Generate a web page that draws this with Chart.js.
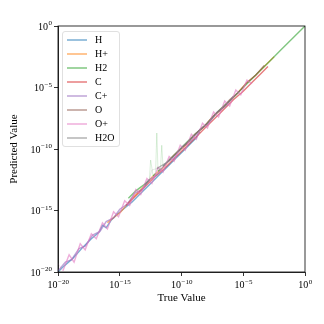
<!DOCTYPE html>
<html>
<head>
<meta charset="utf-8">
<script src="https://cdn.jsdelivr.net/npm/chart.js@4.4.1/dist/chart.umd.min.js"></script>
<style>
  html, body { margin: 0; padding: 0; background: #ffffff; }
  canvas { display: block; }
</style>
</head>
<body>
<canvas id="c" width="324" height="324"></canvas>
<script>
// Species shown in the parity plot
const species = ["H", "H+", "H2", "C", "C+", "O", "O+", "H2O"];
const colors = ["#1f77b4", "#ff7f0e", "#2ca02c", "#d62728", "#9467bd", "#8c564b", "#e377c2", "#7f7f7f"];

// log10 of true and predicted abundances, per species
const trueH  = [-20, -19.5, -18.8, -18.0, -17.3, -16.7, -16.4, -16.1, -15.7, -15.2, -14.6, -14.0, -13.3, -12.6, -11.9, -11.2, -10.5, -9.8, -9.2, -8.8, -8.6, -8.5];
const predH  = [-20, -19.5, -18.9, -18.0, -17.3, -16.8, -16.2, -16.4, -15.8, -15.3, -14.8, -14.3, -13.6, -12.9, -12.2, -11.5, -10.8, -10.1, -9.5, -9.1, -8.7, -8.6];

const trueHp = [-16.0, -15.4, -14.9, -14.5, -14.0, -13.2, -12.4, -11.5, -10.6, -9.8, -9.0, -8.1, -7.3, -6.5, -5.6, -4.8, -4.0, -3.2, -2.5];
const predHp = [-16.0, -15.5, -15.1, -14.6, -14.0, -13.2, -12.3, -11.5, -10.5, -9.8, -8.9, -8.1, -7.2, -6.5, -5.6, -4.7, -4.0, -3.2, -2.5];

const trueH2 = [-14.3, -14.0, -13.7, -13.3, -12.9, -12.6, -12.5, -12.3, -12.1, -12.0, -11.9, -11.7, -11.6, -11.5, -11.2, -10.6, -9.8, -8.9, -7.9, -6.9, -5.9, -4.9, -3.9, -2.9, -2.0, -1.0, 0];
const predH2 = [-14.0, -13.7, -13.4, -13.1, -12.8, -12.5, -10.9, -12.2, -12.0, -8.7, -11.8, -11.6, -9.7, -11.4, -11.1, -10.5, -9.7, -8.8, -7.9, -6.8, -5.9, -4.9, -3.9, -2.9, -2.0, -1.0, 0];

const trueC  = [-14.5, -13.8, -13.0, -12.2, -11.4, -10.6, -9.8, -9.0, -8.2, -7.4, -6.6, -5.8, -5.0, -4.3, -3.6, -3.0];
const predC  = [-14.6, -13.9, -13.1, -12.3, -11.6, -10.8, -10.0, -9.2, -8.4, -7.6, -6.8, -6.0, -5.3, -4.6, -3.9, -3.3];

const trueCp = [-20, -19.4, -18.9, -18.3, -17.8, -17.2, -16.6, -16.1, -15.5, -15.0, -14.4, -13.8, -13.2, -12.6, -12.0, -11.3, -10.6, -9.9, -9.2, -8.5, -7.8, -7.1, -6.4, -5.8];
const predCp = [-19.9, -19.2, -19.0, -18.1, -17.9, -17.0, -16.7, -15.9, -15.6, -14.9, -14.5, -13.6, -13.3, -12.5, -12.1, -11.2, -10.7, -9.8, -9.3, -8.4, -7.9, -7.0, -6.5, -5.7];

const trueO  = [-11.0, -10.3, -9.6, -8.9, -8.2, -7.5, -6.8, -6.1, -5.4, -4.7, -4.0, -3.3];
const predO  = [-10.9, -10.2, -9.6, -8.8, -8.2, -7.4, -6.8, -6.0, -5.4, -4.6, -4.0, -3.2];

const trueOp = [-20, -19.6, -19.1, -18.7, -18.2, -17.8, -17.3, -16.9, -16.4, -16.0, -15.5, -15.1, -14.6, -14.2, -13.7, -13.3, -12.8, -12.4, -11.9, -11.5, -11.0, -10.6, -10.1, -9.7, -9.2, -8.8, -8.3, -7.9, -7.4, -7.0, -6.5, -6.1, -5.6, -5.2, -4.7, -4.3];
const predOp = [-19.3, -19.9, -18.6, -19.2, -17.7, -18.2, -16.9, -17.3, -16.0, -16.5, -15.1, -15.5, -14.2, -14.6, -13.3, -13.7, -12.4, -12.8, -11.5, -11.9, -10.6, -11.0, -9.7, -10.1, -8.8, -9.2, -7.9, -8.3, -7.0, -7.4, -6.1, -6.5, -5.2, -5.6, -4.4, -4.7];

const trueW  = [-13.0, -12.6, -12.4, -12.0, -11.7, -11.2, -10.5, -9.7, -8.9, -8.0, -7.1, -6.2, -5.3];
const predW  = [-12.9, -12.5, -11.7, -11.6, -11.4, -11.1, -10.4, -9.6, -8.8, -8.0, -7.0, -6.2, -5.3];

const trueSeries = [trueH, trueHp, trueH2, trueC, trueCp, trueO, trueOp, trueW];
const predSeries = [predH, predHp, predH2, predC, predCp, predO, predOp, predW];

// Decade exponents labelled on both axes
const tickExponents = [-20, -15, -10, -5, 0];

const SERIF = "'Liberation Serif', 'DejaVu Serif', serif";

function withAlpha(hex, a) {
  const n = parseInt(hex.slice(1), 16);
  return `rgba(${(n >> 16) & 255},${(n >> 8) & 255},${n & 255},${a})`;
}

// Segments that stray far from the diagonal are drawn faintly
function offDiagonal(p) {
  return Math.abs(Math.log10(p.y) - Math.log10(p.x)) > 0.6;
}

const datasets = species.map((name, i) => ({
  label: name,
  data: trueSeries[i].map((t, k) => ({ x: Math.pow(10, t), y: Math.pow(10, predSeries[i][k]) })),
  borderColor: withAlpha(colors[i], 0.6),
  backgroundColor: withAlpha(colors[i], 0.6),
  borderWidth: 1.4,
  pointRadius: 0,
  tension: 0,
  fill: false,
  order: species.length - 1 - i,
  segment: {
    borderColor: ctx => (offDiagonal(ctx.p0.parsed) || offDiagonal(ctx.p1.parsed))
      ? withAlpha(colors[i], 0.22) : undefined,
    borderWidth: ctx => (offDiagonal(ctx.p0.parsed) || offDiagonal(ctx.p1.parsed)) ? 0.8 : undefined
  }
}));

function decadeTicks(scale) {
  scale.ticks = tickExponents.map(e => ({ value: Math.pow(10, e) }));
}

const axisCommon = {
  type: 'logarithmic',
  min: 1e-20,
  max: 1,
  afterBuildTicks: decadeTicks,
  ticks: { display: false },
  grid: { drawOnChartArea: false, drawTicks: true, tickLength: 4, color: '#000', lineWidth: 0.8 },
  border: { display: true, color: '#000', width: 0.8 }
};

// Frame, tick labels with superscript exponents, axis titles and legend
const decorations = {
  id: 'decorations',
  afterDraw(chart) {
    const ctx = chart.ctx;
    const a = chart.chartArea;
    const xs = chart.scales.x, ys = chart.scales.y;
    ctx.save();
    ctx.strokeStyle = '#000';
    ctx.lineWidth = 0.8;
    ctx.strokeRect(a.left, a.top, a.right - a.left, a.bottom - a.top);

    ctx.fillStyle = '#000';
    const base = '10px ' + SERIF, sup = '7px ' + SERIF;
    function measure(e) {
      ctx.font = base; const w1 = ctx.measureText('10').width;
      ctx.font = sup; const w2 = ctx.measureText(e === 0 ? '0' : '\u2212' + (-e)).width;
      return [w1, w2];
    }
    function drawLabel(e, x, y) {
      const s = e === 0 ? '0' : '\u2212' + (-e);
      const [w1] = measure(e);
      ctx.textAlign = 'left'; ctx.textBaseline = 'alphabetic';
      ctx.font = base; ctx.fillText('10', x, y);
      ctx.font = sup; ctx.fillText(s, x + w1 + 0.5, y - 4.5);
    }
    tickExponents.forEach(e => {
      const px = xs.getPixelForValue(Math.pow(10, e));
      const [w1, w2] = measure(e);
      drawLabel(e, px - (w1 + w2) / 2, a.bottom + 16);
      const py = ys.getPixelForValue(Math.pow(10, e));
      drawLabel(e, a.left - 6 - (w1 + w2 + 0.5), py + 3.5);
    });

    ctx.font = '11px ' + SERIF;
    ctx.textAlign = 'center';
    ctx.textBaseline = 'alphabetic';
    ctx.fillText('True Value', (a.left + a.right) / 2, 301);
    ctx.save();
    ctx.translate(17, (a.top + a.bottom) / 2);
    ctx.rotate(-Math.PI / 2);
    ctx.fillText('Predicted Value', 0, 0);
    ctx.restore();

    // legend box
    const bx = 62.5, by = 31.5, bw = 57, bh = 115, r = 2.5;
    ctx.beginPath();
    ctx.moveTo(bx + r, by);
    ctx.arcTo(bx + bw, by, bx + bw, by + bh, r);
    ctx.arcTo(bx + bw, by + bh, bx, by + bh, r);
    ctx.arcTo(bx, by + bh, bx, by, r);
    ctx.arcTo(bx, by, bx + bw, by, r);
    ctx.closePath();
    ctx.fillStyle = 'rgba(255,255,255,0.8)';
    ctx.fill();
    ctx.strokeStyle = '#d8d8d8';
    ctx.lineWidth = 0.8;
    ctx.stroke();

    ctx.font = '10px ' + SERIF;
    ctx.textAlign = 'left';
    ctx.textBaseline = 'middle';
    chart.data.datasets.forEach((ds, i) => {
      const y = 40 + i * 14;
      ctx.strokeStyle = ds.borderColor;
      ctx.lineWidth = 1.5;
      ctx.beginPath();
      ctx.moveTo(67, y);
      ctx.lineTo(87, y);
      ctx.stroke();
      ctx.fillStyle = '#000';
      ctx.fillText(ds.label, 95, y + 0.5);
    });
    ctx.restore();
  }
};

new Chart(document.getElementById('c'), {
  type: 'line',
  data: { datasets },
  options: {
    responsive: false,
    animation: false,
    devicePixelRatio: 1,
    layout: { padding: { top: 26, right: 19, left: 0, bottom: 0 } },
    plugins: { legend: { display: false }, tooltip: { enabled: false } },
    scales: {
      x: Object.assign({}, axisCommon, { position: 'bottom', afterFit: s => { s.height = 52; } }),
      y: Object.assign({}, axisCommon, { position: 'left', afterFit: s => { s.width = 58; } })
    }
  },
  plugins: [decorations]
});
</script>
</body>
</html>
